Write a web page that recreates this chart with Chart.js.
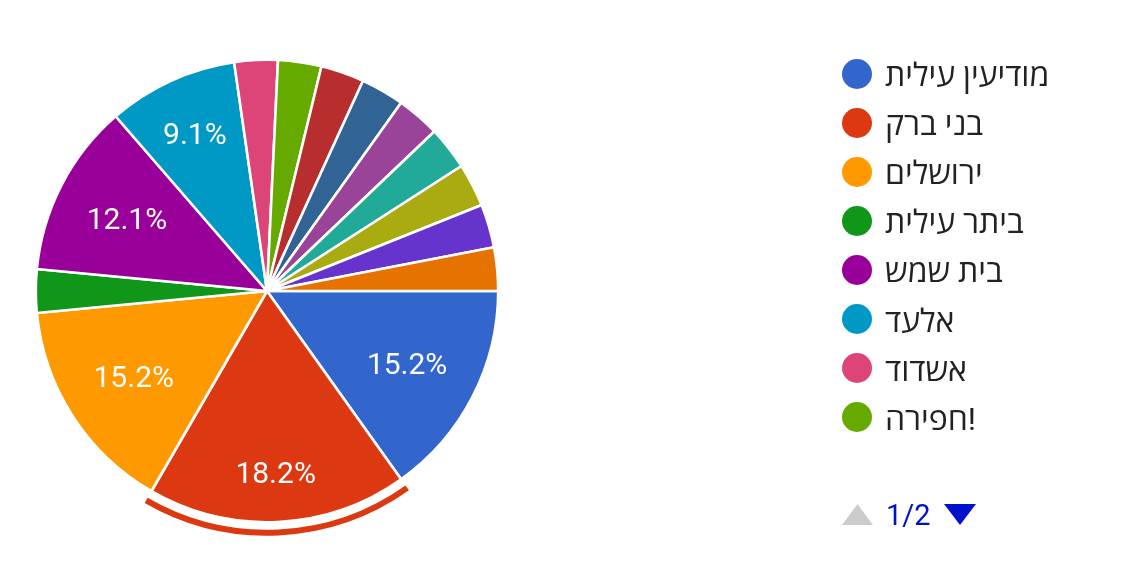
<!DOCTYPE html>
<html>
<head>
<meta charset="utf-8">
<script src="https://cdn.jsdelivr.net/npm/chart.js@4.4.0/dist/chart.umd.min.js"></script>
<style>
  html, body { margin: 0; padding: 0; background: #fff; }
  #wrap { position: relative; width: 1128px; height: 572px; }
  #pie { position: absolute; left: 0; top: 0; }
  .item { position: absolute; left: 842px; height: 30px; display: flex; align-items: center; white-space: nowrap; }
  .dot { width: 30px; height: 30px; border-radius: 50%; flex: none; }
  .txt { margin-left: 13px; font: 32px Roboto, 'Open Sans', 'Liberation Sans', Arial, sans-serif; color: #222; direction: ltr; }
  #pager { position: absolute; left: 842px; top: 501px; height: 28px; display: flex; align-items: center; }
  #pager span { font: 29px Roboto, sans-serif; color: #0011cc; margin: 0 13px 0 13px; }
</style>
</head>
<body>
<div id="wrap">
  <canvas id="pie" width="1128" height="572"></canvas>
  <div id="legend"></div>
  <div id="pager">
    <svg width="31" height="22"><polygon points="0,21 31,21 15.5,0" fill="#cccccc"/></svg>
    <span>1/2</span>
    <svg width="32" height="22"><polygon points="0,0 32,0 16,21" fill="#0011cc"/></svg>
  </div>
</div>
<script>
// answers per city (33 responses)
const cities = ['מודיעין עילית', 'בני ברק', 'ירושלים', 'ביתר עילית', 'בית שמש', 'אלעד', 'אשדוד', 'חפירה!',
                'צפת', 'טבריה', 'חיפה', 'רכסים', 'פתח תקווה', 'נתניה', 'אחר'];
const answers = [5, 6, 5, 1, 4, 3, 1, 1, 1, 1, 1, 1, 1, 1, 1];
const colors = ['#3366cc', '#dc3912', '#ff9900', '#109618', '#990099', '#0099c6', '#dd4477', '#66aa00',
                '#b82e2e', '#316395', '#994499', '#22aa99', '#aaaa11', '#6633cc', '#e67300'];
const perPage = 8;
const selected = 1;

// legend, first page only
const legend = document.getElementById('legend');
cities.slice(0, perPage).forEach((name, i) => {
  const row = document.createElement('div');
  row.className = 'item';
  row.style.top = (58.5 + i * 49.1) + 'px';
  row.innerHTML = `<div class="dot" style="background:${colors[i]}"></div><span class="txt">${name}</span>`;
  legend.appendChild(row);
});

const sliceText = {
  id: 'sliceText',
  afterDatasetsDraw(chart) {
    const ctx = chart.ctx;
    const meta = chart.getDatasetMeta(0);
    const total = answers.reduce((a, b) => a + b, 0);
    ctx.save();
    ctx.font = '30px Roboto, sans-serif';
    ctx.fillStyle = '#fff';
    ctx.textAlign = 'center';
    ctx.textBaseline = 'alphabetic';
    meta.data.forEach((arc, i) => {
      const pct = answers[i] / total;
      if (pct < 0.05) return;
      const text = (pct * 100).toFixed(1) + '%';
      const ang = (arc.startAngle + arc.endAngle) / 2;
      const c = Math.cos(ang), s = Math.sin(ang);
      const w = ctx.measureText(text).width;
      const h = 23;
      const a = w / 2 * Math.sign(c), b = h / 2 * Math.sign(s);
      const R = 0.86 * arc.outerRadius;
      const k = a * c + b * s;
      const d = -k + Math.sqrt(k * k - (a * a + b * b - R * R));
      ctx.fillText(text, arc.x + d * c, arc.y + d * s + 10.7);
    });
    ctx.restore();
  }
};

const selectRing = {
  id: 'selectRing',
  afterDatasetsDraw(chart) {
    const arc = chart.getDatasetMeta(0).data[selected];
    const ctx = chart.ctx;
    ctx.save();
    ctx.beginPath();
    ctx.arc(arc.x, arc.y, arc.outerRadius + 10.5, arc.startAngle, arc.endAngle);
    ctx.lineWidth = 6;
    ctx.strokeStyle = colors[selected];
    ctx.stroke();
    ctx.restore();
  }
};

new Chart(document.getElementById('pie'), {
  type: 'pie',
  data: {
    labels: cities,
    datasets: [{
      data: answers,
      backgroundColor: colors,
      borderColor: '#ffffff',
      borderWidth: 2.6,
      hoverOffset: 0
    }]
  },
  options: {
    responsive: false,
    animation: false,
    events: [],
    rotation: 90,
    layout: { padding: { left: 34.5, right: 628.5, top: 58.5, bottom: 48.5 } },
    plugins: { legend: { display: false }, tooltip: { enabled: false } }
  },
  plugins: [sliceText, selectRing]
});
</script>
</body>
</html>
